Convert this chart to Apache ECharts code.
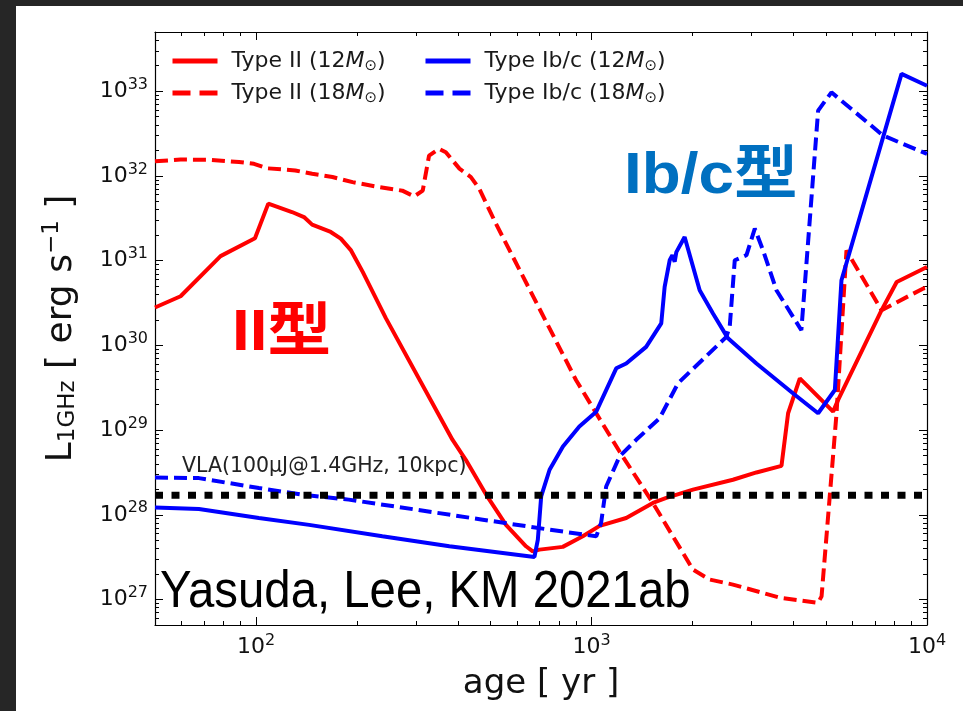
<!DOCTYPE html>
<html><head><meta charset="utf-8">
<script src="https://cdn.jsdelivr.net/npm/echarts@6/dist/echarts.min.js"></script>
<style>html,body{margin:0;padding:0;background:#fff}#c{width:963px;height:711px}</style>
</head><body><div id="c"></div>
<script>
// ---- data (age [yr], L_1GHz [erg/s]) ----
const ageII12 = [50, 59.6, 78.4, 99.3, 108.8, 128, 139, 147, 167, 179, 192, 208, 244, 385, 422, 485, 556, 638, 668, 700, 821, 942, 1057, 1269, 1524, 1671, 2006, 2640, 3102, 3684, 3855, 4178, 5250, 5434, 7322, 8122, 10000];
const lumII12 = [2.8e30, 3.8e30, 1.13e31, 1.84e31, 4.71e31, 3.75e31, 3.27e31, 2.66e31, 2.18e31, 1.82e31, 1.32e31, 7.36e30, 2.08e30, 7.7e28, 4.46e28, 1.73e28, 7.6e27, 4.25e27, 3.7e27, 3.88e27, 4.18e27, 5.57e27, 7.4e27, 9.16e27, 1.38e28, 1.58e28, 1.98e28, 2.59e28, 3.16e28, 3.78e28, 1.58e29, 4.08e29, 1.65e29, 2.27e29, 2.6e30, 5.6e30, 8.4e30];

const ageII18 = [50, 59.6, 72.4, 89, 98.6, 108, 131, 147, 169, 194, 228, 273, 296, 314, 328, 351, 368, 404, 437, 463, 519, 899, 1212, 1524, 1748, 2006, 2249, 2640, 3640, 4737, 4850, 5375, 5754, 7322, 9750, 10000];
const lumII18 = [1.49e32, 1.56e32, 1.55e32, 1.46e32, 1.39e32, 1.23e32, 1.16e32, 1.06e32, 9.7e31, 8.45e31, 7.5e31, 6.7e31, 5.73e31, 6.7e31, 1.74e32, 2.09e32, 1.9e32, 1.22e32, 9.7e31, 7.06e31, 2.73e31, 3.9e29, 5.58e28, 1.38e28, 5.57e27, 2.26e27, 1.72e27, 1.5e27, 1.05e27, 9.15e26, 1.09e27, 1.58e29, 1.32e31, 2.6e30, 4.7e30, 4.8e30];

const ageIbc12 = [50, 67.6, 102, 144, 238, 377, 676, 692, 708, 750, 822, 920, 1033, 1185, 1269, 1455, 1614, 1652, 1710, 1742, 1770, 1790, 1895, 2101, 2302, 2552, 3102, 3984, 4737, 5313, 5560, 8395, 10000];
const lumIbc12 = [1.22e28, 1.17e28, 9.15e27, 7.6e27, 5.57e27, 4.25e27, 3.18e27, 5.1e27, 1.65e28, 3.4e28, 6.4e28, 1.1e29, 1.65e29, 5.36e29, 6.1e29, 9.6e29, 1.82e30, 4.9e30, 1.01e31, 1.16e31, 9.7e30, 1.26e31, 1.9e31, 4.48e30, 2.38e30, 1.21e30, 6.1e29, 2.72e29, 1.58e29, 2.97e29, 5.87e30, 1.6e33, 1.16e33];

const ageIbc18 = [50, 67.6, 102, 137, 189, 300, 474, 750, 1033, 1068, 1106, 1212, 1359, 1596, 1811, 2523, 2582, 2673, 2897, 3067, 3247, 3558, 4222, 4737, 5190, 7396, 10000];
const lumIbc18 = [2.76e28, 2.71e28, 2.07e28, 1.73e28, 1.51e28, 1.15e28, 8.75e27, 6.67e27, 5.57e27, 8.0e27, 2.16e28, 4.88e28, 7.67e28, 1.38e29, 3.57e29, 1.26e30, 1.66e30, 1.01e31, 1.16e31, 2.39e31, 1.32e31, 4.48e30, 1.51e30, 5.9e32, 9.7e32, 3.0e32, 1.82e32];

const vlaLimit = 1.7e28;
const vlaAges = [50, 10000];

const xMajor = [100, 1000, 10000];
const xMinor = [60, 70, 80, 90, 200, 300, 400, 500, 600, 700, 800, 900, 2000, 3000, 4000, 5000, 6000, 7000, 8000, 9000];
const yMajor = [1e27, 1e28, 1e29, 1e30, 1e31, 1e32, 1e33];
const yMinor = [6e26, 7e26, 8e26, 9e26];
for (let e = 27; e <= 33; e++) for (let m = 2; m <= 9; m++) { if (e === 33 && m > 5) break; yMinor.push(m * Math.pow(10, e)); }

const legendNames = ['Type II (12M)', 'Type II (18M)', 'Type Ib/c (12M)', 'Type Ib/c (18M)'];

// ---- chart ----
const pair = (a, b) => a.map((v, i) => [v, b[i]]);
const FONT = 'DejaVu Sans';
const RED = '#ff0000', BLUE = '#0000ff';

function powLabel(v) {
  const e = Math.round(Math.log10(v));
  return '{b|10}{s|' + e + '}';
}
const tickRich = {
  b: { fontFamily: FONT, fontSize: 22, color: '#111' },
  s: { fontFamily: FONT, fontSize: 16, color: '#111', padding: [0, 0, 13, 0] }
};

function xAx(pos, values, len, showLine, showLabel) {
  return {
    type: 'log', position: pos, min: 50, max: 10000,
    axisLine: { show: showLine, lineStyle: { color: '#000', width: 1.2 } },
    axisTick: { show: true, inside: true, length: len, customValues: values, lineStyle: { color: '#000', width: 1 } },
    axisLabel: showLabel ? { show: true, customValues: values, formatter: powLabel, margin: 8, rich: tickRich } : { show: false },
    splitLine: { show: false }, minorTick: { show: false }
  };
}
function yAx(pos, values, len, showLine, showLabel) {
  return {
    type: 'log', position: pos, min: 5e26, max: 5e33,
    axisLine: { show: showLine, lineStyle: { color: '#000', width: 1.2 } },
    axisTick: { show: true, inside: true, length: len, customValues: values, lineStyle: { color: '#000', width: 1 } },
    axisLabel: showLabel ? { show: true, customValues: values, formatter: powLabel, margin: 7, rich: tickRich } : { show: false },
    splitLine: { show: false }, minorTick: { show: false }
  };
}

const xAxes = [xAx('bottom', xMajor, 8, true, true), xAx('bottom', xMinor, 4, false, false), xAx('top', xMajor, 8, true, false), xAx('top', xMinor, 4, false, false)];
xAxes[0].name = 'age [ yr ]';
xAxes[0].nameLocation = 'middle';
xAxes[0].nameGap = 42;
xAxes[0].nameTextStyle = { fontFamily: FONT, fontSize: 34, color: '#111' };

const yAxes = [yAx('left', yMajor, 8, true, true), yAx('left', yMinor, 4, false, false), yAx('right', yMajor, 8, true, false), yAx('right', yMinor, 4, false, false)];
yAxes[0].name = '{m|L}{sub|1GHz}{m| [ erg s}{sup|−1}{m| ]}';
yAxes[0].nameLocation = 'middle';
yAxes[0].nameGap = 73;
yAxes[0].nameRotate = 90;
yAxes[0].nameTextStyle = {
  fontFamily: FONT, fontSize: 36, color: '#111',
  rich: {
    m: { fontFamily: FONT, fontSize: 36, color: '#111' },
    sub: { fontFamily: FONT, fontSize: 23, color: '#111', padding: [13, 0, 0, 0] },
    sup: { fontFamily: FONT, fontSize: 23, color: '#111', padding: [0, 0, 18, 0] }
  }
};

function line(name, ages, lums, color, dashed) {
  return {
    name: name, type: 'line', xAxisIndex: 0, yAxisIndex: 0,
    data: pair(ages, lums), showSymbol: false, symbol: 'none', smooth: false,
    lineStyle: { color: color, width: 4, type: dashed ? [13, 6] : 'solid', cap: 'butt' },
    itemStyle: { color: color }, z: 3, silent: true
  };
}

const legendText = {
  fontFamily: FONT, fontSize: 22, color: '#1a1a1a',
  rich: {
    g: { width: 9, fontSize: 22 },
    t: { fontFamily: FONT, fontSize: 22, color: '#1a1a1a', lineHeight: 26 },
    i: { fontFamily: FONT, fontSize: 22, color: '#1a1a1a', fontStyle: 'italic', lineHeight: 26 },
    o: { fontFamily: FONT, fontSize: 15, color: '#1a1a1a', padding: [11, 0, 0, 0] }
  }
};
function legendFmt(name) {
  const base = name.slice(0, name.length - 2);
  return '{g| }{t|' + base + '}{i|M}{o|⊙}{t|)}';
}
const solidLegend = { width: 5, type: 'solid', cap: 'butt' };
const dashLegend = { width: 5, type: [18, 9], cap: 'butt' };

const option = {
  backgroundColor: '#ffffff',
  animation: false,
  grid: { left: 155, right: 36, top: 32, bottom: 86, containLabel: false },
  xAxis: xAxes,
  yAxis: yAxes,
  legend: [
    { orient: 'vertical', left: 170, top: 50, padding: 0, itemGap: 8, itemWidth: 45, itemHeight: 1,
      itemStyle: { opacity: 0 }, lineStyle: solidLegend,
      data: [{ name: legendNames[0], lineStyle: solidLegend }, { name: legendNames[1], lineStyle: dashLegend }],
      formatter: legendFmt, textStyle: legendText, selectedMode: false },
    { orient: 'vertical', left: 423, top: 50, padding: 0, itemGap: 8, itemWidth: 45, itemHeight: 1,
      itemStyle: { opacity: 0 }, lineStyle: solidLegend,
      data: [{ name: legendNames[2], lineStyle: solidLegend }, { name: legendNames[3], lineStyle: dashLegend }],
      formatter: legendFmt, textStyle: legendText, selectedMode: false }
  ],
  series: [
    {
      name: 'VLA', type: 'line', xAxisIndex: 0, yAxisIndex: 0,
      data: vlaAges.map(a => [a, vlaLimit]), showSymbol: false, symbol: 'none',
      lineStyle: { color: '#000', width: 7, type: [8, 8.5], cap: 'butt' }, z: 4, silent: true
    },
    line(legendNames[0], ageII12, lumII12, RED, false),
    line(legendNames[1], ageII18, lumII18, RED, true),
    line(legendNames[2], ageIbc12, lumIbc12, BLUE, false),
    line(legendNames[3], ageIbc18, lumIbc18, BLUE, true)
  ],
  graphic: [
    { type: 'rect', shape: { x: 0, y: 0, width: 16, height: 711 }, style: { fill: '#262626' }, z: 100, silent: true },
    { type: 'rect', shape: { x: 0, y: 0, width: 963, height: 6 }, style: { fill: '#262626' }, z: 100, silent: true },
    { type: 'text', x: 182, y: 456, z: 50, silent: true,
      style: { text: 'VLA(100μJ@1.4GHz, 10kpc)', fontFamily: FONT, fontSize: 20.5, fill: '#222', textVerticalAlign: 'top' } },
    { type: 'text', x: 232, y: 305, z: 50, scaleX: 1.1, silent: true,
      style: { text: 'II型', fontFamily: 'Liberation Sans, Noto Sans CJK JP', fontWeight: 'bold', fontSize: 58, fill: '#ff0000', textVerticalAlign: 'top' } },
    { type: 'text', x: 624, y: 148, z: 50, scaleX: 1.1, silent: true,
      style: { text: 'Ib/c型', fontFamily: 'Liberation Sans, Noto Sans CJK JP', fontWeight: 'bold', fontSize: 58, fill: '#0070c0', textVerticalAlign: 'top' } },
    { type: 'text', x: 160, y: 567, z: 50, scaleX: 0.91, silent: true,
      style: { text: 'Yasuda, Lee, KM 2021ab', fontFamily: 'Liberation Sans', fontSize: 52, fill: '#000', textVerticalAlign: 'top' } }
  ]
};

const chart = echarts.init(document.getElementById('c'), null, { renderer: 'canvas' });
chart.setOption(option);
</script>
</body></html>
